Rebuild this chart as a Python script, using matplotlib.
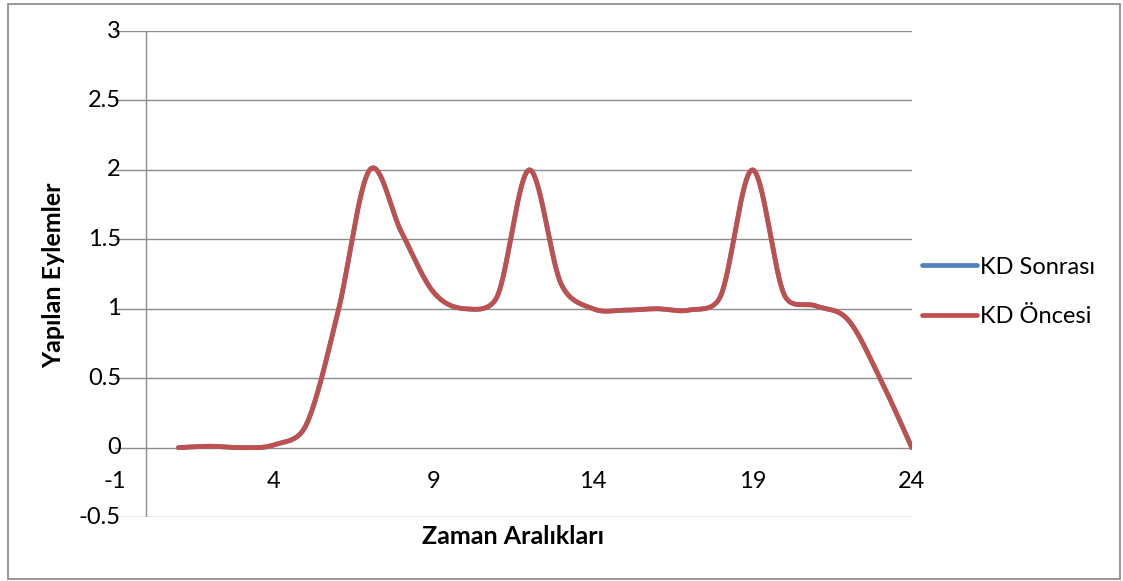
import numpy as np
import matplotlib
matplotlib.use('Agg')
from matplotlib import pyplot as plt
from matplotlib.patches import Rectangle

plt.rcParams['font.family'] = ['Lato', 'DejaVu Sans']

# Data
saat = np.arange(1, 25)
kd_sonrasi = [0, 0.01, 0, 0.02, 0.16, 0.97, 2, 1.55, 1.12, 1.0, 1.09, 2,
              1.18, 1.0, 0.99, 1.0, 0.99, 1.09, 2, 1.1, 1.02, 0.92, 0.5, 0]
kd_oncesi = [0, 0.01, 0, 0.02, 0.16, 0.97, 2, 1.55, 1.12, 1.0, 1.09, 2,
             1.18, 1.0, 0.99, 1.0, 0.99, 1.09, 2, 1.1, 1.02, 0.92, 0.5, 0]
x_ticks = [-1, 4, 9, 14, 19, 24]
y_ticks = [-0.5, 0, 0.5, 1, 1.5, 2, 2.5, 3]


def smooth(ax, x, y, n=40):
    # bezier smoothing in display space, control arms capped at half a segment
    pts = ax.transData.transform(np.column_stack([x, y]).astype(float))
    pad = np.vstack([pts[0], pts, pts[-1]])
    t = np.linspace(0, 1, n)[:, None]
    out = []
    for i in range(len(pts) - 1):
        p0, p1, p2, p3 = pad[i], pad[i + 1], pad[i + 2], pad[i + 3]
        d02 = np.hypot(*(p2 - p0))
        d12 = np.hypot(*(p2 - p1))
        d13 = np.hypot(*(p3 - p1))
        f0 = 1 / 6 if d02 / 6 < d12 / 2 else d12 / d02 / 2
        f3 = 1 / 6 if d13 / 6 < d12 / 2 else d12 / d13 / 2
        c1 = p1 + (p2 - p0) * f0
        c2 = p2 - (p3 - p1) * f3
        seg = ((1 - t) ** 3 * p1 + 3 * (1 - t) ** 2 * t * c1
               + 3 * (1 - t) * t ** 2 * c2 + t ** 3 * p2)
        out.append(seg if i == 0 else seg[1:])
    out = ax.transData.inverted().transform(np.vstack(out))
    return out[:, 0], out[:, 1]


fig = plt.figure(figsize=(11.23, 5.81), dpi=100)
ax = fig.add_axes([0.102, 0.110, 0.710, 0.8366])
ax.set_xlim(-1, 24)
ax.set_ylim(-0.5, 3)

grid_col = '#8c8c8c'
for v in y_ticks:
    ax.axhline(v, color=grid_col, lw=1.0, zorder=1)
    ax.text(-0.8, v, f'{v:g}', ha='right', va='center', fontsize=17, clip_on=False)
ax.axvline(0, color=grid_col, lw=1.0, zorder=1)
for v in x_ticks:
    ax.text(v, -0.245, f'{v:g}', ha='center', va='center', fontsize=17)

xs, ys = smooth(ax, saat, kd_sonrasi)
ax.plot(xs, ys, color='#4F81BD', lw=3.4, solid_capstyle='round', label='KD Sonrası', zorder=3)
xs, ys = smooth(ax, saat, kd_oncesi)
ax.plot(xs, ys, color='#C0504D', lw=3.4, solid_capstyle='round', label='KD Öncesi', zorder=4)

for s in ax.spines.values():
    s.set_visible(False)
ax.set_xticks([])
ax.set_yticks([])

ax.legend(loc='center left', bbox_to_anchor=(1.0125, 0.463), frameon=False, fontsize=17,
          borderpad=0, borderaxespad=0, handlelength=2.33, handletextpad=0.13,
          labelspacing=1.22)

fig.text(0.048, 0.527, 'Yapılan Eylemler', rotation=90, ha='center', va='center',
         fontsize=18, fontweight='bold')
fig.text(0.457, 0.076, 'Zaman Aralıkları', ha='center', va='center',
         fontsize=18, fontweight='bold')

fig.patches.append(Rectangle((8 / 1123, 2 / 581), 1112 / 1123, 575 / 581,
                             transform=fig.transFigure, fill=False,
                             edgecolor='#868686', lw=1.2))

fig.savefig('out.png', dpi=100)
